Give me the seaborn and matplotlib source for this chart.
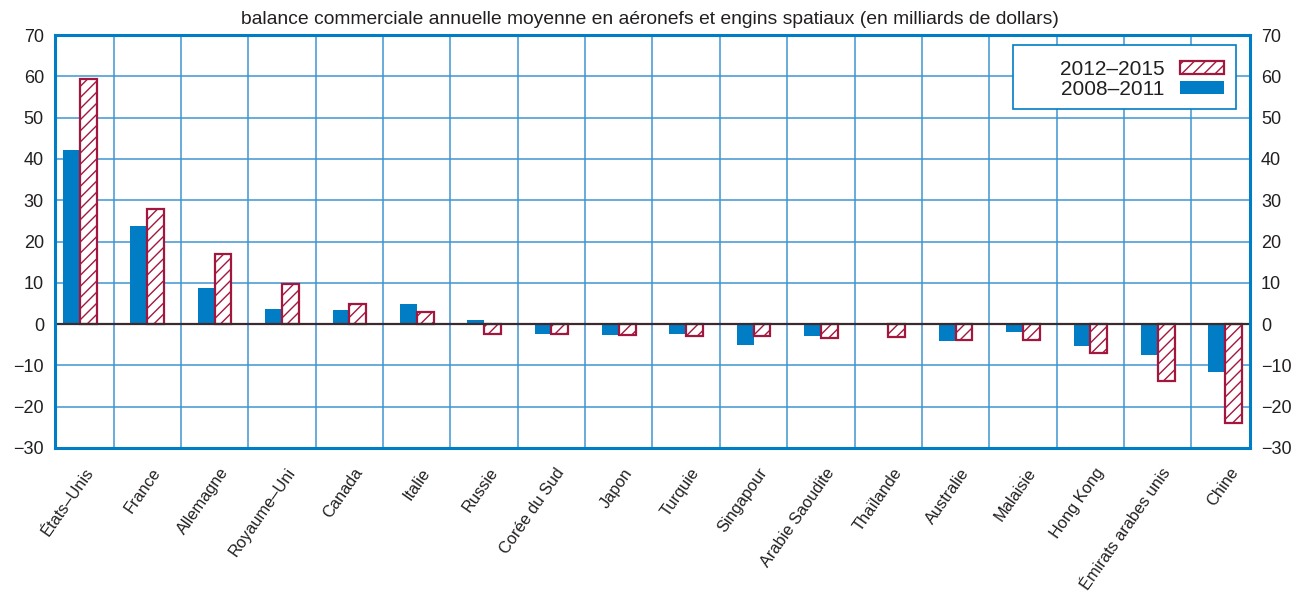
import matplotlib
matplotlib.use("Agg")
import matplotlib.pyplot as plt
import matplotlib.patches as mpatches
import matplotlib.transforms as mtransforms
import seaborn as sns
import pandas as pd
import numpy as np

countries = ["États–Unis", "France", "Allemagne", "Royaume–Uni", "Canada", "Italie",
             "Russie", "Corée du Sud", "Japon", "Turquie", "Singapour", "Arabie Saoudite",
             "Thaïlande", "Australie", "Malaisie", "Hong Kong", "Émirats arabes unis", "Chine"]
v_2008_2011 = [42.1, 23.7, 8.7, 3.6, 3.4, 4.8, 1.0, -2.4, -2.6, -2.4, -5.1, -3.0,
               0.0, -4.0, -2.0, -5.3, -7.5, -11.5]
v_2012_2015 = [59.3, 27.8, 17.0, 9.7, 4.8, 2.9, -2.4, -2.4, -2.6, -2.9, -3.0, -3.3,
               -3.2, -3.9, -3.9, -6.9, -13.8, -23.9]
periods = ["2008–2011", "2012–2015"]
yticks = list(range(-30, 71, 10))
subtitle = "balance commerciale annuelle moyenne en aéronefs et engins spatiaux (en milliards de dollars)"

BLUE = "#007DC5"
GRID = "#3f95d1"
CRIMSON = "#A3173F"
TXT = "#231f20"

sns.set_style("white")
plt.rcParams['font.family'] = ['Liberation Sans', 'DejaVu Sans']
plt.rcParams['hatch.linewidth'] = 1.0
plt.rcParams['hatch.color'] = CRIMSON

df = pd.DataFrame({
    "pays": countries * 2,
    "période": [periods[0]] * len(countries) + [periods[1]] * len(countries),
    "valeur": v_2008_2011 + v_2012_2015,
})

W, H = 1308, 594
fig = plt.figure(figsize=(W / 100, H / 100), dpi=100)
ax = fig.add_axes([55 / W, 1 - 448 / H, (1250 - 55) / W, (448 - 35) / H])

sns.barplot(data=df, x="pays", y="valeur", hue="période", order=countries,
            hue_order=periods, palette=[BLUE, "white"], width=0.5, ax=ax,
            legend=False, errorbar=None, saturation=1)

for p in ax.containers[0]:
    p.set_edgecolor("none")
    p.set_zorder(3)
for p in ax.containers[1]:
    p.set_facecolor("white")
    p.set_edgecolor(CRIMSON)
    p.set_hatch("///")
    p.set_linewidth(1.6)
    p.set_zorder(3)

n = len(countries)
ax.set_xlim(-0.37, n - 1 + 0.37)
ax.set_ylim(-30, 70)
ax.set_yticks(yticks)
ax.set_xticks(np.arange(n))
ax.set_xticks(np.arange(n - 1) + 0.5, minor=True)
ax.grid(False)
ax.grid(True, axis="x", which="minor", color=GRID, lw=1.1, zorder=0)
ax.grid(True, axis="y", which="major", color=GRID, lw=1.1, zorder=0)
ax.set_axisbelow(True)
ax.axhline(0, color="#3a2b31", lw=1.6, zorder=4)

ax.set_xlabel("")
ax.set_ylabel("")
ax.tick_params(axis="y", which="both", length=0, labelsize=13, labelleft=True,
               labelright=True, pad=8, colors=TXT)
ax.tick_params(axis="x", which="both", length=0, pad=12.5)
ax.set_xticklabels(countries, rotation=55, ha="right", rotation_mode="anchor",
                   fontsize=11.8, color=TXT)
shift = mtransforms.ScaledTranslation(4 / 100, 0, fig.dpi_scale_trans)
for lbl in ax.get_xticklabels():
    lbl.set_transform(lbl.get_transform() + shift)

for s in ax.spines.values():
    s.set_visible(True)
    s.set_color(BLUE)
    s.set_linewidth(2.2)
    s.set_zorder(5)

fig.text(650 / W, 1 - 20 / H, subtitle, ha="center", va="center", fontsize=13.9,
         color=TXT)

# legend frame
frame = mpatches.Rectangle((1013 / W, 1 - 109 / H), (1236 - 1013) / W, 64 / H,
                           transform=fig.transFigure, facecolor="white",
                           edgecolor=BLUE, lw=1.2, zorder=6)
fig.add_artist(frame)
h1 = mpatches.Patch(facecolor="white", edgecolor=CRIMSON, hatch="///", lw=1.6)
h2 = mpatches.Patch(facecolor=BLUE, edgecolor="none")
leg = fig.legend([h1, h2], ["2012–2015", "2008–2011"], loc="upper right",
                 bbox_to_anchor=(1224 / W, 1 - 60 / H), markerfirst=False,
                 fontsize=15, frameon=False, handlelength=2.1,
                 handleheight=0.6, borderpad=0, labelspacing=0.05,
                 handletextpad=0.75, borderaxespad=0)
leg.set_zorder(7)
for t in leg.get_texts():
    t.set_color(TXT)

fig.savefig("out.png", dpi=100)
